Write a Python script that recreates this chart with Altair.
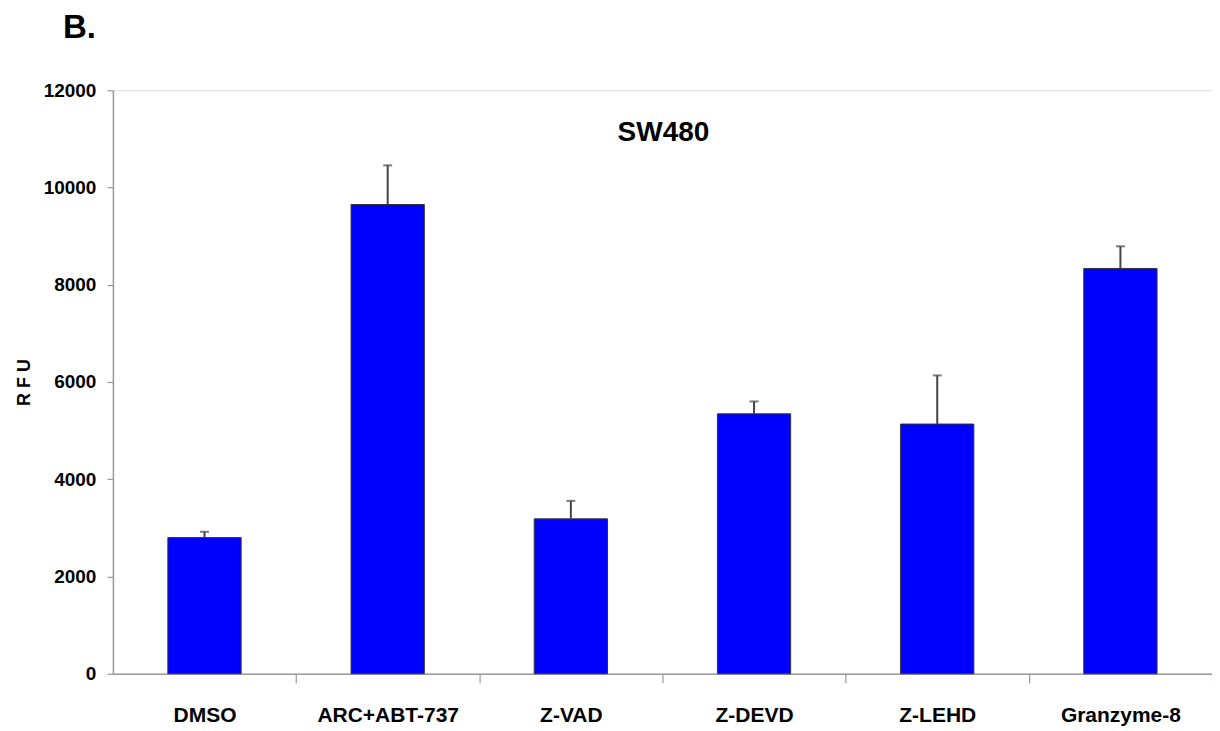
import altair as alt
import pandas as pd

categories = ["DMSO", "ARC+ABT-737", "Z-VAD", "Z-DEVD", "Z-LEHD", "Granzyme-8"]
means = [2800, 9650, 3185, 5345, 5135, 8335]
upper = [2920, 10455, 3555, 5600, 6135, 8790]
y_ticks = [0, 2000, 4000, 6000, 8000, 10000, 12000]

df = pd.DataFrame({"cat": categories, "mean": means, "upper": upper})

FONT = "Liberation Sans"
W, H = 1100, 584
PAD_IN, PAD_OUT = 0.6, 0.3
STEP = W / (len(categories) - PAD_IN + 2 * PAD_OUT)
GAP_HALF = STEP * PAD_IN / 2

xenc = alt.X(
    "cat:N",
    sort=categories,
    scale=alt.Scale(paddingInner=PAD_IN, paddingOuter=PAD_OUT),
    axis=alt.Axis(
        title=None,
        labelAngle=0,
        labelFont=FONT,
        labelFontSize=21,
        labelFontWeight="bold",
        labelColor="black",
        labelPadding=22,
        bandPosition=1,
        tickOffset=GAP_HALF,
        labelOffset=-GAP_HALF,
        tickSize=9,
        tickColor="#999999",
        domainColor="#999999",
        domainWidth=1.5,
        tickWidth=1.2,
    ),
)
yenc = alt.Y(
    "mean:Q",
    scale=alt.Scale(domain=[0, 12000], nice=False, zero=True),
    axis=alt.Axis(
        title="R F U",
        titleFont=FONT,
        titleFontSize=18,
        titleFontWeight="bold",
        titleColor="black",
        titlePadding=10,
        values=y_ticks,
        format="d",
        labelFont=FONT,
        labelFontSize=19,
        labelFontWeight="bold",
        labelColor="black",
        labelPadding=11,
        tickSize=6,
        tickColor="#999999",
        domainColor="#999999",
        domainWidth=1.5,
        tickWidth=1.2,
        grid=False,
    ),
)

base = alt.Chart(df)

bars = base.mark_bar(color="#0000FF", stroke="#333333", strokeWidth=1).encode(x=xenc, y=yenc)
err = base.mark_rule(color="#444444", strokeWidth=2).encode(
    x=alt.X("cat:N", sort=categories), y="mean:Q", y2="upper:Q"
)
caps = base.mark_tick(color="#444444", thickness=2, size=9, orient="horizontal").encode(
    x=alt.X("cat:N", sort=categories), y="upper:Q"
)

title_sw = alt.Chart(pd.DataFrame({"t": ["SW480"]})).mark_text(
    font=FONT, fontSize=28, fontWeight="bold", color="black", baseline="alphabetic", align="center"
).encode(text="t:N", x=alt.value(W / 2 + 1), y=alt.value(51))

title_b = alt.Chart(pd.DataFrame({"t": ["B."]})).mark_text(
    font=FONT, fontSize=33, fontWeight="bold", color="black", baseline="alphabetic", align="left"
).encode(text="t:N", x=alt.value(-50), y=alt.value(-52))

chart = alt.layer(bars, err, caps, title_sw, title_b).properties(
    width=W,
    height=H,
    autosize=alt.AutoSizeParams(type="none"),
    padding={"left": 105, "top": 82, "right": 0, "bottom": 56},
).configure_view(stroke=None).configure(background="white")

chart.save("out.html", embed_options={"renderer": "svg", "actions": False})
